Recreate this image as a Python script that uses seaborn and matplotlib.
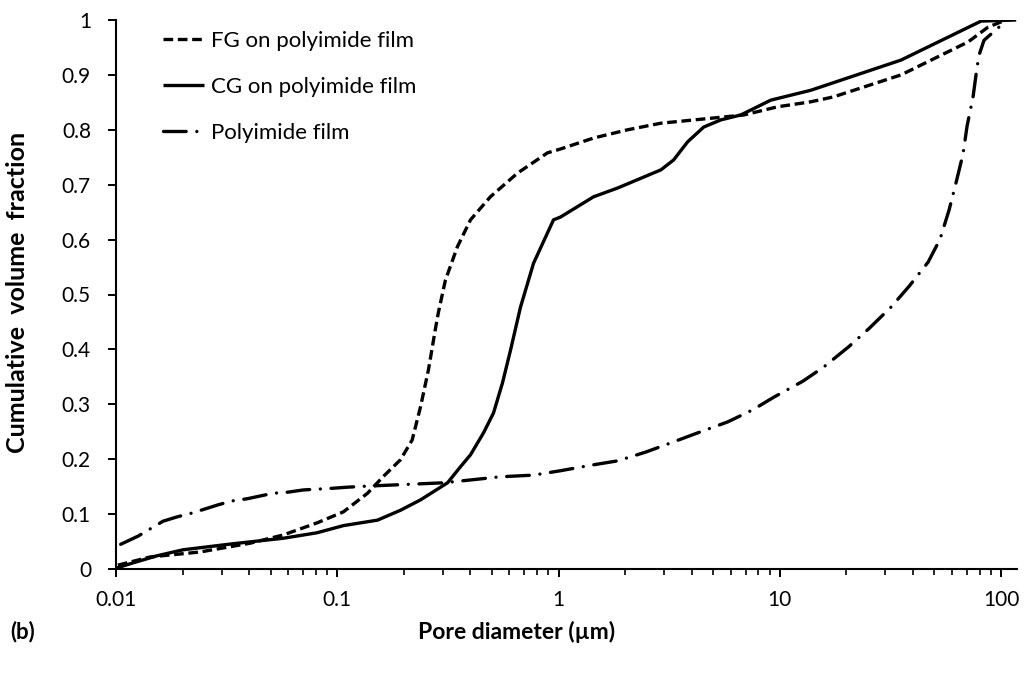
import numpy as np
import pandas as pd
import matplotlib
matplotlib.use("Agg")
import matplotlib.pyplot as plt
import matplotlib.ticker as mticker
import seaborn as sns

# Cumulative pore volume fraction vs. pore diameter (µm)
fg_d = [0.0102, 0.0143, 0.024, 0.0404, 0.057, 0.081, 0.1065, 0.137, 0.161, 0.193,
        0.218, 0.238, 0.258, 0.266, 0.277, 0.286, 0.308, 0.349, 0.400, 0.492,
        0.652, 0.891, 1.02, 1.44, 2.05, 2.90, 4.87, 6.87, 9.8, 13.8, 17.5, 35.3,
        70.9, 87.3, 105.0]
fg_v = [0.007, 0.022, 0.031, 0.047, 0.062, 0.084, 0.104, 0.138, 0.168, 0.199,
        0.235, 0.296, 0.362, 0.393, 0.435, 0.466, 0.526, 0.587, 0.636, 0.678,
        0.721, 0.758, 0.765, 0.785, 0.800, 0.812, 0.821, 0.827, 0.842, 0.851, 0.860, 0.900,
        0.960, 0.987, 1.000]

cg_d = [0.0101, 0.0119, 0.0153, 0.0201, 0.0338, 0.057, 0.081, 0.1065, 0.152, 0.193,
        0.238, 0.315, 0.360, 0.400, 0.458, 0.508, 0.558, 0.607, 0.673, 0.771,
        0.949, 1.02, 1.44, 1.85, 2.90, 3.31, 3.83, 4.53, 5.41, 6.66, 9.1, 13.8,
        35.3, 81.2, 117.0]
cg_v = [0.002, 0.011, 0.024, 0.035, 0.046, 0.056, 0.066, 0.079, 0.089, 0.107,
        0.126, 0.157, 0.186, 0.208, 0.248, 0.284, 0.339, 0.399, 0.477, 0.557,
        0.636, 0.641, 0.678, 0.694, 0.727, 0.745, 0.778, 0.805, 0.818, 0.827, 0.854, 0.872,
        0.927, 0.998, 1.000]

pi_d = [0.0105, 0.0126, 0.0163, 0.0189, 0.0221, 0.029, 0.0335, 0.0392, 0.0513, 0.060,
        0.0702, 0.0949, 0.111, 0.137, 0.302, 0.547, 0.771, 1.02, 1.40, 1.85,
        2.48, 3.28, 4.39, 5.82, 7.55, 9.4, 12.7, 15.8, 20.5, 25.3, 31.8, 38.4,
        46.8, 53.0, 58.2, 62.6, 67.3, 70.2, 74.7, 77.8, 79.5, 83.7, 103.0]
pi_v = [0.045, 0.060, 0.087, 0.095, 0.102, 0.117, 0.124, 0.128, 0.138, 0.140,
        0.144, 0.147, 0.149, 0.151, 0.157, 0.168, 0.171, 0.179, 0.189, 0.197,
        0.213, 0.231, 0.250, 0.268, 0.290, 0.313, 0.342, 0.368, 0.405, 0.438, 0.477, 0.515,
        0.559, 0.601, 0.654, 0.704, 0.756, 0.807, 0.860, 0.913, 0.936, 0.963, 0.995]

labels = ["FG on polyimide film", "CG on polyimide film", "Polyimide film"]
x_ticks = [0.01, 0.1, 1, 10, 100]
x_tick_labels = ["0.01", "0.1", "1", "10", "100"]
y_ticks = [0, 0.1, 0.2, 0.3, 0.4, 0.5, 0.6, 0.7, 0.8, 0.9, 1]

sns.set_theme(style="ticks")
plt.rcParams["font.family"] = ["Lato", "DejaVu Sans"]

W, H = 1024, 675
fig = plt.figure(figsize=(W / 100, H / 100), dpi=100)
ax = fig.add_axes([116 / W, 1 - 569 / H, (1017 - 116) / W, (569 - 20) / H])

lw = 2.4
styles = [
    dict(linestyle=(0, (2.9, 1.4)), dash_capstyle="butt"),
    dict(linestyle="-", solid_capstyle="butt"),
    dict(linestyle=(0, (6.8, 3.2, 0.01, 3.2)), dash_capstyle="round"),
]
series = [(fg_d, fg_v), (cg_d, cg_v), (pi_d, pi_v)]
for (d, v), lab, st in zip(series, labels, styles):
    df = pd.DataFrame({"d": d, "v": v})
    sns.lineplot(data=df, x="d", y="v", ax=ax, color="black", lw=lw,
                 label=lab, sort=False, estimator=None, **st)

ax.set_xscale("log")
ax.set_xlim(0.01, 118)
ax.set_ylim(0, 1)
ax.set_xticks(x_ticks)
ax.xaxis.set_major_formatter(mticker.FixedFormatter(x_tick_labels))
ax.xaxis.set_minor_locator(mticker.LogLocator(base=10, subs=np.arange(2, 10)))
ax.xaxis.set_minor_formatter(mticker.NullFormatter())
ax.set_yticks(y_ticks)
ax.yaxis.set_major_formatter(mticker.FuncFormatter(lambda v, p: f"{v:g}"))

for s in ["top", "right"]:
    ax.spines[s].set_visible(False)
for s in ["left", "bottom"]:
    ax.spines[s].set_linewidth(1.5)
    ax.spines[s].set_color("black")
ax.tick_params(axis="both", which="major", length=6, width=1.4, color="black",
               labelsize=15, labelcolor="black", direction="out")
ax.tick_params(axis="x", which="minor", length=4, width=1.2, color="black", direction="out")
ax.tick_params(axis="x", which="major", pad=9)
ax.tick_params(axis="y", which="major", pad=12)

ax.set_xlabel("")
ax.set_ylabel("")
fig.text(18 / W, 1 - 292 / H, "Cumulative  volume  fraction", rotation=90,
         ha="center", va="center", fontsize=18, fontweight="bold", color="black")
fig.text(517 / W, 1 - 632 / H, "Pore diameter (µm)", ha="center", va="center",
         fontsize=16.5, fontweight="bold", color="black")
fig.text(10 / W, 1 - 632 / H, "(b)", ha="left", va="center",
         fontsize=16, fontweight="bold", color="black")

leg = ax.legend(loc="upper left", bbox_to_anchor=((163 - 116) / 901, (569 - 31) / 549),
                frameon=False, fontsize=16, handlelength=1.85, handletextpad=0.33,
                labelspacing=1.17, borderaxespad=0.0, borderpad=0.0)
for t in leg.get_texts():
    t.set_color("black")

fig.savefig("out.png", dpi=100, facecolor="white")
